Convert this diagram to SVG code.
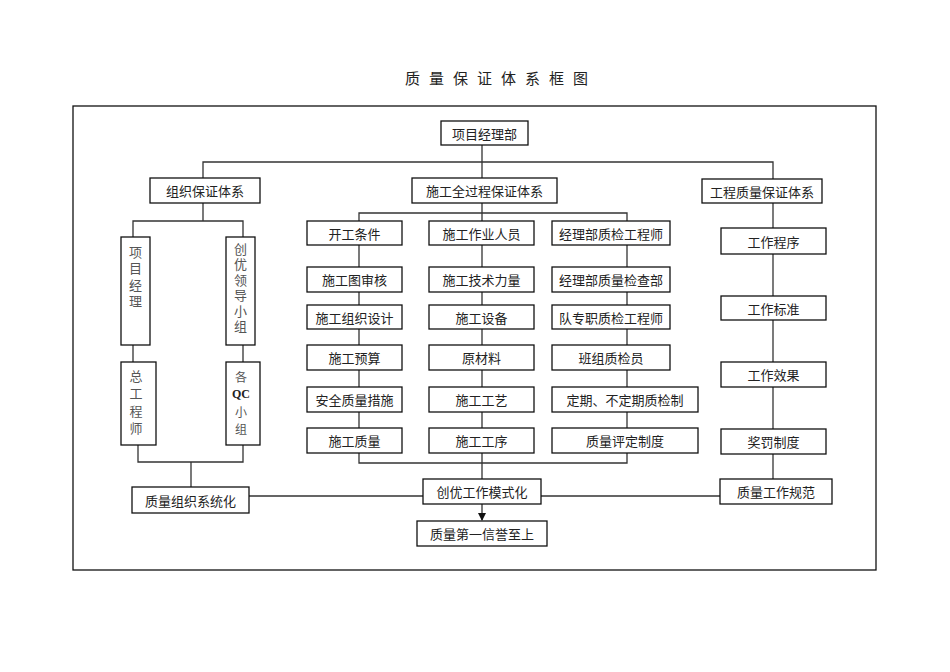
<svg xmlns="http://www.w3.org/2000/svg" width="950" height="672" viewBox="0 0 950 672">
<style>
.b{fill:#fff;stroke:#111;stroke-width:1.3}
.t{font-family:"Noto Sans CJK SC","Liberation Sans",sans-serif;font-size:13px;fill:#222;text-anchor:middle;dominant-baseline:central}
.v{font-family:"Noto Sans CJK SC","Liberation Serif",serif;font-size:13px;fill:#555;text-anchor:start;writing-mode:vertical-rl}
.q{font-family:"Noto Sans CJK SC","Liberation Serif",serif;font-size:12px;fill:#555;text-anchor:middle;dominant-baseline:central}
.c{fill:none;stroke:#333;stroke-width:1.3}
</style>
<defs>
<marker id="ar" markerWidth="8" markerHeight="8" refX="7" refY="4" orient="auto" markerUnits="userSpaceOnUse">
<path d="M0,0 L8,4 L0,8 Z" fill="#111"/>
</marker>
</defs>
<rect width="950" height="672" fill="#fff"/>
<text x="405" y="77" style="font-family:'Noto Sans CJK SC','Liberation Sans',sans-serif;font-size:15px;fill:#222;letter-spacing:9px;dominant-baseline:central">质量保证体系框图</text>
<rect x="73" y="106" width="803" height="464" fill="none" stroke="#111" stroke-width="1.3"/>
<g id="connectors">
<path class="c" d="M482,145 V178 M203,178 V162 H773 V179"/>
<path class="c" d="M203,203 V221 M133,237 V221 H243 V237"/>
<path class="c" d="M133,345 V362 M243,345 V362 M138,445 V462 H243 V445 M191,462 V487"/>
<path class="c" d="M482,203 V221 M359,221 V213 H627 V221"/>
<path class="c" d="M359,245 V428 M482,245 V428 M627,245 V428"/>
<path class="c" d="M359,453 V463 H627 V453 M482,453 V479"/>
<path class="c" d="M773,203 V479"/>
<path class="c" d="M249,496 H423 M541,496 H720"/>
<path class="c" d="M482,504 V520" marker-end="url(#ar)"/>
</g>
<g id="n_top"><rect class="b" x="441" y="121" width="87" height="24"/><text class="t" x="484.5" y="133">项目经理部</text></g>
<g id="n_org"><rect class="b" x="150" y="178" width="110" height="25"/><text class="t" x="205" y="190.5">组织保证体系</text></g>
<g id="n_proc"><rect class="b" x="412" y="178" width="145" height="25"/><text class="t" x="484.5" y="190.5">施工全过程保证体系</text></g>
<g id="n_eng"><rect class="b" x="702" y="179" width="120" height="24"/><text class="t" x="762" y="191">工程质量保证体系</text></g>
<g id="n_pm"><rect class="b" x="121" y="237" width="29" height="108"/>
<text class="v" x="135.5" y="245.5" style="letter-spacing:3.5px">项目经理</text></g>
<g id="n_lead"><rect class="b" x="226" y="237" width="29" height="108"/>
<text class="v" x="240.5" y="242.5" style="letter-spacing:2.5px">创优领导小组</text></g>
<g id="n_ce"><rect class="b" x="121" y="362" width="35" height="83"/>
<text class="v" x="136" y="369.5" style="letter-spacing:4.5px">总工程师</text></g>
<g id="n_qc"><rect class="b" x="226" y="362" width="34" height="83"/>
<text class="q" x="241" y="376">各</text><text class="q" x="241" y="393.5" style="font-family:'Liberation Serif',serif;font-weight:bold;fill:#222">QC</text><text class="q" x="241" y="411">小</text><text class="q" x="241" y="428.5">组</text></g>
<g id="n_c1r1"><rect class="b" x="307" y="221" width="95" height="24"/><text class="t" x="354.5" y="233">开工条件</text></g>
<g id="n_c1r2"><rect class="b" x="307" y="267" width="95" height="25"/><text class="t" x="354.5" y="279.5">施工图审核</text></g>
<g id="n_c1r3"><rect class="b" x="307" y="305" width="95" height="24"/><text class="t" x="354.5" y="317">施工组织设计</text></g>
<g id="n_c1r4"><rect class="b" x="307" y="345" width="95" height="25"/><text class="t" x="354.5" y="357.5">施工预算</text></g>
<g id="n_c1r5"><rect class="b" x="307" y="387" width="95" height="25"/><text class="t" x="354.5" y="399.5">安全质量措施</text></g>
<g id="n_c1r6"><rect class="b" x="307" y="428" width="95" height="25"/><text class="t" x="354.5" y="440.5">施工质量</text></g>
<g id="n_c2r1"><rect class="b" x="429" y="221" width="105" height="24"/><text class="t" x="481.5" y="233">施工作业人员</text></g>
<g id="n_c2r2"><rect class="b" x="429" y="267" width="105" height="25"/><text class="t" x="481.5" y="279.5">施工技术力量</text></g>
<g id="n_c2r3"><rect class="b" x="429" y="305" width="105" height="24"/><text class="t" x="481.5" y="317">施工设备</text></g>
<g id="n_c2r4"><rect class="b" x="429" y="345" width="105" height="25"/><text class="t" x="481.5" y="357.5">原材料</text></g>
<g id="n_c2r5"><rect class="b" x="429" y="387" width="105" height="25"/><text class="t" x="481.5" y="399.5">施工工艺</text></g>
<g id="n_c2r6"><rect class="b" x="429" y="428" width="105" height="25"/><text class="t" x="481.5" y="440.5">施工工序</text></g>
<g id="n_c3r1"><rect class="b" x="552" y="221" width="118" height="24"/><text class="t" x="611" y="233">经理部质检工程师</text></g>
<g id="n_c3r2"><rect class="b" x="552" y="267" width="118" height="25"/><text class="t" x="611" y="279.5">经理部质量检查部</text></g>
<g id="n_c3r3"><rect class="b" x="552" y="305" width="118" height="24"/><text class="t" x="611" y="317">队专职质检工程师</text></g>
<g id="n_c3r4"><rect class="b" x="552" y="345" width="118" height="25"/><text class="t" x="611" y="357.5">班组质检员</text></g>
<g id="n_c3r5"><rect class="b" x="552" y="387" width="146" height="25"/><text class="t" x="625" y="399.5">定期、不定期质检制</text></g>
<g id="n_c3r6"><rect class="b" x="552" y="428" width="146" height="25"/><text class="t" x="625" y="440.5">质量评定制度</text></g>
<g id="n_r1"><rect class="b" x="721" y="228" width="105" height="26"/><text class="t" x="773.5" y="241">工作程序</text></g>
<g id="n_r2"><rect class="b" x="721" y="296" width="105" height="24"/><text class="t" x="773.5" y="308">工作标准</text></g>
<g id="n_r3"><rect class="b" x="721" y="362" width="105" height="25"/><text class="t" x="773.5" y="374.5">工作效果</text></g>
<g id="n_r4"><rect class="b" x="721" y="429" width="105" height="25"/><text class="t" x="773.5" y="441.5">奖罚制度</text></g>
<g id="n_sys"><rect class="b" x="132" y="487" width="117" height="26"/><text class="t" x="190.5" y="500">质量组织系统化</text></g>
<g id="n_mode"><rect class="b" x="423" y="479" width="118" height="25"/><text class="t" x="482" y="491.5">创优工作模式化</text></g>
<g id="n_norm"><rect class="b" x="720" y="479" width="112" height="25"/><text class="t" x="776" y="491.5">质量工作规范</text></g>
<g id="n_final"><rect class="b" x="417" y="521" width="130" height="25"/><text class="t" x="482" y="533.5">质量第一信誉至上</text></g>
</svg>
